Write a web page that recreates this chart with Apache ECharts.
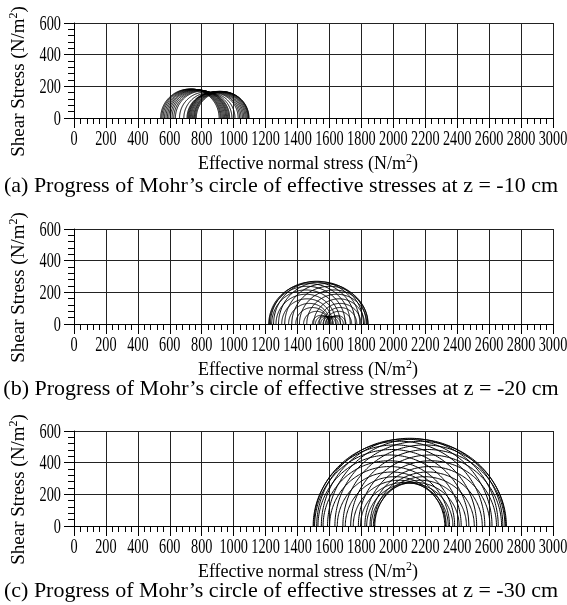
<!DOCTYPE html>
<html>
<head>
<meta charset="utf-8">
<script src="https://cdn.jsdelivr.net/npm/echarts@6/dist/echarts.min.js"></script>
<style>
  html, body { margin: 0; padding: 0; background: #fff; }
  #chart { width: 567px; height: 605px; }
</style>
</head>
<body>
<div id="chart"></div>
<script>
// Tick values shared by the three panels
const xTickLabels = [0, 200, 400, 600, 800, 1000, 1200, 1400, 1600, 1800, 2000, 2200, 2400, 2600, 2800, 3000];
const yTickLabels = [0, 200, 400, 600];

// Panel captions
const captions = [
  '(a) Progress of Mohr\u2019s circle of effective stresses at z = -10 cm',
  '(b) Progress of Mohr\u2019s circle of effective stresses at z = -20 cm',
  '(c) Progress of Mohr\u2019s circle of effective stresses at z = -30 cm'
];

// Principal effective stresses (N/m^2) through one wave period: sigma'3 (left end) and sigma'1 (right end)
const sigma3_z10 = [543, 550, 558, 567, 576, 585, 594, 604, 614, 625, 635, 661, 688, 708, 713, 718, 723, 729, 735, 742, 749, 754, 760, 766];
const sigma1_z10 = [909, 916, 922, 929, 936, 943, 950, 956, 962, 969, 975, 989, 1008, 1028, 1037, 1046, 1055, 1063, 1071, 1078, 1085, 1090, 1094, 1096];

const sigma3_z20 = [1501, 1458, 1412, 1364, 1320, 1281, 1250, 1230, 1220, 1223, 1238, 1265, 1301, 1344, 1389, 1438, 1493, 1512, 1529, 1545, 1560, 1574, 1587, 1597, 1579, 1563, 1537];
const sigma1_z20 = [1819, 1834, 1842, 1840, 1830, 1813, 1790, 1762, 1730, 1699, 1668, 1641, 1619, 1604, 1597, 1598, 1603, 1612, 1625, 1639, 1654, 1670, 1687, 1703, 1739, 1771, 1797];

const sigma3_z30 = [1822, 1781, 1733, 1684, 1634, 1588, 1549, 1520, 1502, 1498, 1507, 1528, 1560, 1601, 1649, 1699, 1749, 1794, 1833, 1862, 1880, 1884, 1875, 1854];
const sigma1_z30 = [2646, 2678, 2699, 2708, 2704, 2686, 2657, 2618, 2573, 2522, 2473, 2425, 2384, 2352, 2331, 2322, 2327, 2344, 2373, 2412, 2458, 2507, 2557, 2605];

const panels = [
  { s3: sigma3_z10, s1: sigma1_z10, caption: captions[0] },
  { s3: sigma3_z20, s1: sigma1_z20, caption: captions[1] },
  { s3: sigma3_z30, s1: sigma1_z30, caption: captions[2] }
];

const FONT = '"Liberation Serif", "Times New Roman", Times, serif';
const GRID_TOPS = [23, 229, 431];
const GRID_LEFT = 73;
const GRID_W = 480;
const GRID_H = 95;
const INK = '#000';
const GRID_INK = '#222';

const chart = echarts.init(document.getElementById('chart'), null, { renderer: 'canvas' });

const grids = [], xAxes = [], yAxes = [], series = [], graphics = [];

const nameRich = {
  n: { fontFamily: FONT, fontSize: 18, color: INK, lineHeight: 22 },
  sup: { fontFamily: FONT, fontSize: 12, color: INK, lineHeight: 12, verticalAlign: 'top' }
};
const yNameRich = {
  n: { fontFamily: FONT, fontSize: 19, color: INK, lineHeight: 22 },
  sup: { fontFamily: FONT, fontSize: 12, color: INK, lineHeight: 12, verticalAlign: 'top' }
};

panels.forEach((p, i) => {
  grids.push({ left: GRID_LEFT, top: GRID_TOPS[i], width: GRID_W, height: GRID_H, containLabel: false });

  xAxes.push({
    gridIndex: i, type: 'value', min: 0, max: 3000, interval: 200,
    name: '{n|Effective normal stress (N/m}{sup|2}{n|)}',
    nameLocation: 'middle', nameGap: 35,
    nameTextStyle: { rich: nameRich, padding: [0, 11, 0, 0] },
    axisLine: { show: true, lineStyle: { color: INK, width: 1 } },
    axisTick: { show: true, inside: false, length: 10, lineStyle: { color: INK } },
    minorTick: { show: true, splitNumber: 5, length: 6, lineStyle: { color: INK } },
    axisLabel: { show: false },
    splitLine: { show: true, lineStyle: { color: GRID_INK, width: 1 } }
  });

  yAxes.push({
    gridIndex: i, type: 'value', min: 0, max: 600, interval: 200,
    name: '{n|Shear Stress (N/m}{sup|2}{n|)}',
    nameLocation: 'middle', nameGap: 44, nameRotate: 90,
    nameTextStyle: { rich: yNameRich, padding: [0, 22, 0, 0] },
    axisLine: { show: true, lineStyle: { color: INK, width: 1 } },
    axisTick: { show: true, inside: false, length: 10, lineStyle: { color: INK } },
    minorTick: { show: true, splitNumber: 5, length: 6, lineStyle: { color: INK } },
    axisLabel: { show: false },
    splitLine: { show: true, lineStyle: { color: GRID_INK, width: 1 } }
  });

  // Mohr's circles (upper halves) built from sigma'3 and sigma'1
  series.push({
    type: 'custom', xAxisIndex: i, yAxisIndex: i, silent: true, animation: false,
    dimensions: ['sigma3', 'sigma1'],
    encode: { x: ['sigma3', 'sigma1'] },
    data: p.s3.map((v, k) => [v, p.s1[k]]),
    renderItem: (params, api) => {
      const s3 = api.value(0), s1 = api.value(1);
      const c = (s3 + s1) / 2, r = (s1 - s3) / 2;
      const pts = [];
      for (let k = 0; k <= 120; k++) {
        const a = Math.PI * k / 120;
        pts.push(api.coord([c - r * Math.cos(a), r * Math.sin(a)]));
      }
      return { type: 'polyline', shape: { points: pts }, style: { stroke: INK, lineWidth: 1, fill: null } };
    }
  });

  // Condensed tick labels on the normal-stress axis
  series.push({
    type: 'custom', xAxisIndex: i, yAxisIndex: i, silent: true, animation: false,
    data: xTickLabels.map(v => [v, 0]),
    renderItem: (params, api) => {
      const v = api.value(0);
      const pt = api.coord([v, 0]);
      return {
        type: 'text', x: pt[0], y: pt[1] + 21, scaleX: 0.68,
        style: { text: String(v), fontFamily: FONT, fontSize: 21, fill: INK, align: 'center', verticalAlign: 'middle' }
      };
    }
  });

  // Condensed tick labels on the shear-stress axis
  series.push({
    type: 'custom', xAxisIndex: i, yAxisIndex: i, silent: true, animation: false,
    data: yTickLabels.map(v => [0, v]),
    renderItem: (params, api) => {
      const v = api.value(1);
      const pt = api.coord([0, v]);
      return {
        type: 'text', x: pt[0] - 13, y: pt[1] + 1, scaleX: 0.68,
        style: { text: String(v), fontFamily: FONT, fontSize: 21, fill: INK, align: 'right', verticalAlign: 'middle' }
      };
    }
  });
});

const captionY = [186, 389, 591];
panels.forEach((p, i) => {
  graphics.push({
    type: 'text', x: 281, y: captionY[i], silent: true,
    style: { text: p.caption, fontFamily: FONT, fontSize: 22, fill: INK, align: 'center', verticalAlign: 'middle' }
  });
});

chart.setOption({
  animation: false,
  backgroundColor: '#fff',
  grid: grids,
  xAxis: xAxes,
  yAxis: yAxes,
  series: series,
  graphic: graphics
});
</script>
</body>
</html>
